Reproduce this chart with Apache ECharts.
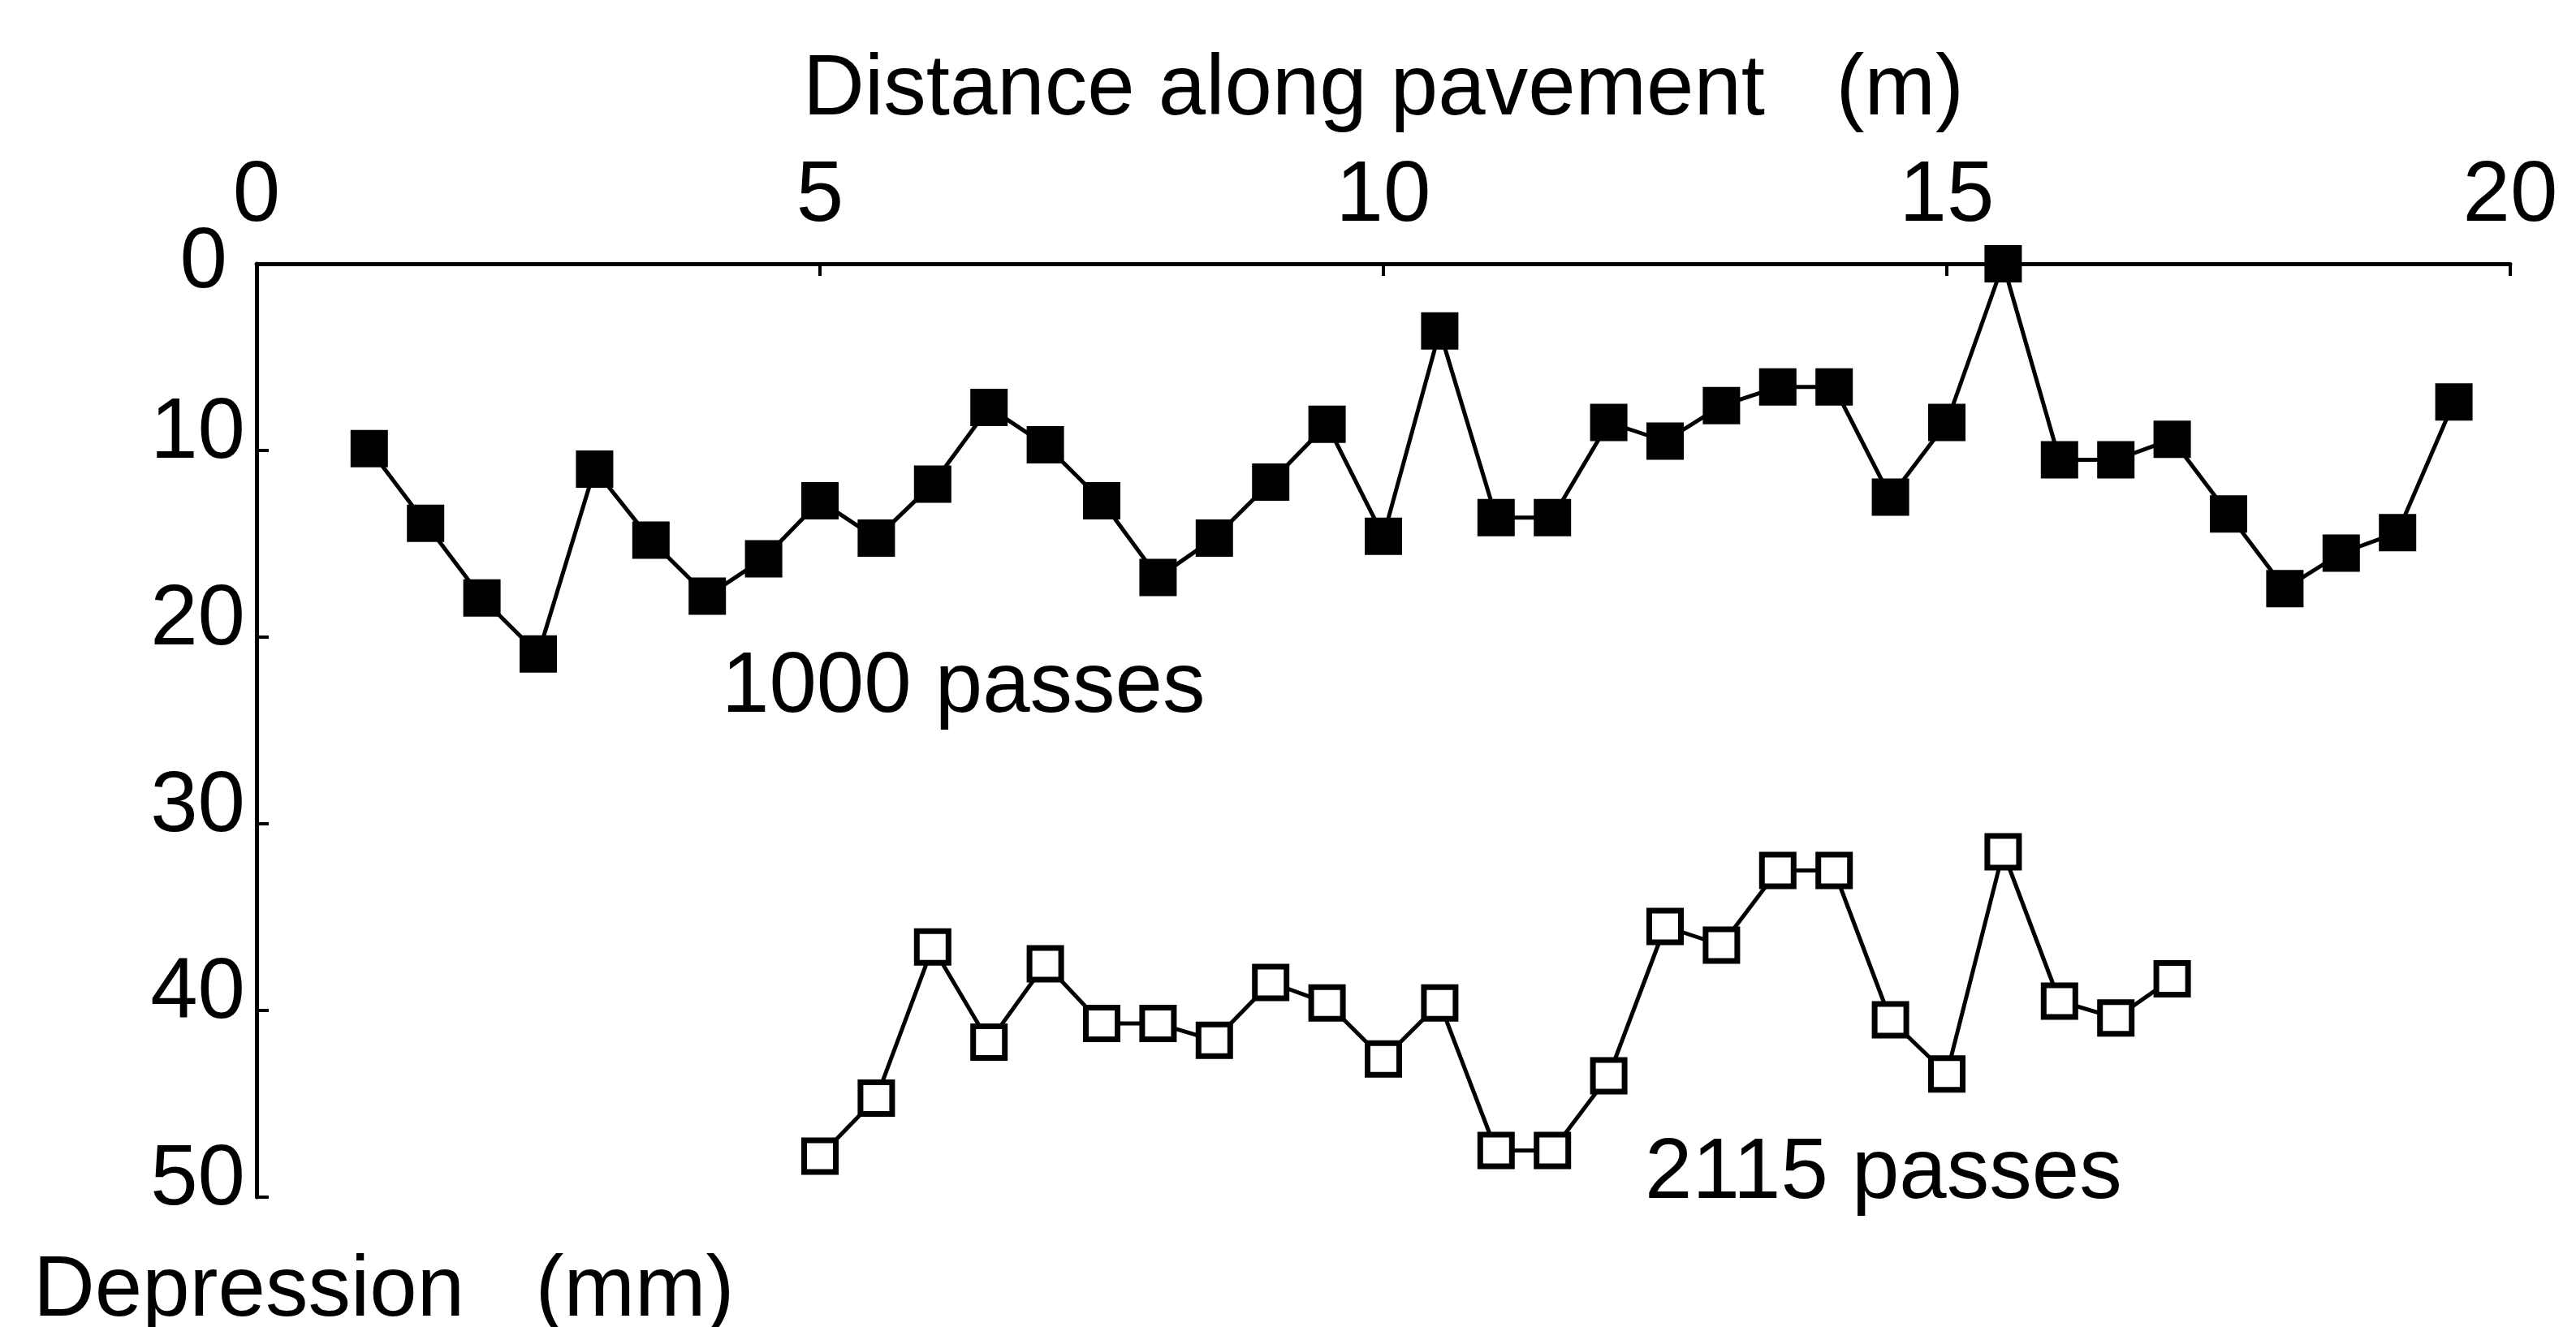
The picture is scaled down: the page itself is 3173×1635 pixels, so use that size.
<!DOCTYPE html>
<html>
<head>
<meta charset="utf-8">
<script src="https://cdn.jsdelivr.net/npm/echarts@6/dist/echarts.min.js"></script>
<style>
html,body{margin:0;padding:0;background:#fff;}
#chart{width:3173px;height:1635px;}
</style>
</head>
<body>
<div id="chart"></div>
<script>
// ---- Data ----
const xTicks = [0, 5, 10, 15, 20];
const yTicks = [0, 10, 20, 30, 40, 50];

const dist1000 = [1.0, 1.5, 2.0, 2.5, 3.0, 3.5, 4.0, 4.5, 5.0, 5.5, 6.0, 6.5, 7.0, 7.5, 8.0, 8.5, 9.0, 9.5, 10.0,
                  10.5, 11.0, 11.5, 12.0, 12.5, 13.0, 13.5, 14.0, 14.5, 15.0, 15.5, 16.0, 16.5, 17.0, 17.5, 18.0, 18.5, 19.0, 19.5];
const depth1000 = [9.9, 13.9, 17.9, 20.9, 11.0, 14.8, 17.8, 15.8, 12.7, 14.7, 11.8, 7.7, 9.7, 12.7, 16.8, 14.7, 11.7, 8.6, 14.6,
                   3.6, 13.6, 13.6, 8.5, 9.5, 7.6, 6.6, 6.6, 12.5, 8.5, 0, 10.5, 10.5, 9.4, 13.4, 17.4, 15.5, 14.4, 7.4];

const dist2115 = [5.0, 5.5, 6.0, 6.5, 7.0, 7.5, 8.0, 8.5, 9.0, 9.5, 10.0, 10.5, 11.0, 11.5, 12.0, 12.5, 13.0,
                  13.5, 14.0, 14.5, 15.0, 15.5, 16.0, 16.5, 17.0];
const depth2115 = [47.8, 44.7, 36.6, 41.7, 37.5, 40.7, 40.7, 41.6, 38.5, 39.6, 42.6, 39.6, 47.5, 47.5, 43.5, 35.5, 36.5,
                   32.5, 32.5, 40.5, 43.4, 31.5, 39.5, 40.4, 38.3];

const label1000 = '1000 passes';
const label2115 = '2115 passes';
const xTitle = 'Distance along pavement   (m)';
const yTitle = 'Depression   (mm)';

// ---- Chart ----
const FONT = "'Liberation Sans', Arial, Helvetica, sans-serif";
const FS = 105;
const chart = echarts.init(document.getElementById('chart'), null, {renderer: 'canvas'});

const option = {
  animation: false,
  backgroundColor: '#ffffff',
  grid: {left: 316, right: 81, top: 325, bottom: 160, containLabel: false},
  xAxis: {
    type: 'value', position: 'top',
    min: xTicks[0], max: xTicks[xTicks.length - 1], interval: xTicks[1] - xTicks[0],
    name: xTitle, nameLocation: 'middle', nameGap: 160,
    nameTextStyle: {fontFamily: FONT, fontSize: FS, color: '#000'},
    axisLine: {show: true, onZero: false, lineStyle: {color: '#000', width: 5}},
    axisTick: {show: true, inside: true, length: 15, lineStyle: {color: '#000', width: 4}},
    axisLabel: {show: true, margin: 29, fontFamily: FONT, fontSize: FS, color: '#000',
      formatter: v => xTicks.indexOf(v) >= 0 ? String(v) : ''},
    splitLine: {show: false}
  },
  yAxis: {
    type: 'value', inverse: true,
    min: yTicks[0], max: yTicks[yTicks.length - 1], interval: yTicks[1] - yTicks[0],
    axisLine: {show: true, onZero: false, lineStyle: {color: '#000', width: 5}},
    axisTick: {show: true, inside: true, length: 15, lineStyle: {color: '#000', width: 4}},
    axisLabel: {show: true, margin: 14,
      formatter: v => (yTicks.indexOf(v) < 0 ? '' : (v === 0 ? '{z|0}' : '{n|' + v + '}')),
      rich: {
        n: {fontFamily: FONT, fontSize: FS, color: '#000', padding: [0, 0, 40, 0]},
        z: {fontFamily: FONT, fontSize: FS, color: '#000', padding: [0, 22, 0, 0]}
      }
    },
    splitLine: {show: false}
  },
  series: [
    {
      name: label1000, type: 'line', silent: true, clip: false, z: 3,
      data: dist1000.map((x, i) => [x, depth1000[i]]),
      symbol: 'rect', symbolSize: 46, showAllSymbol: true,
      lineStyle: {color: '#000', width: 5},
      itemStyle: {color: '#000', borderWidth: 0},
      emphasis: {disabled: true}
    },
    {
      name: label2115, type: 'line', silent: true, clip: false, z: 3,
      data: dist2115.map((x, i) => [x, depth2115[i]]),
      symbol: 'rect', symbolSize: 39, showAllSymbol: true,
      lineStyle: {color: '#000', width: 5},
      itemStyle: {color: '#fff', borderColor: '#000', borderWidth: 7},
      emphasis: {disabled: true}
    }
  ],
  graphic: [
    {type: 'text', left: 889, top: 796, silent: true,
      style: {text: label1000, font: FS + 'px ' + FONT, fill: '#000'}},
    {type: 'text', left: 2026, top: 1395, silent: true,
      style: {text: label2115, font: FS + 'px ' + FONT, fill: '#000'}},
    {type: 'text', left: 41, top: 1540, silent: true,
      style: {text: yTitle, font: FS + 'px ' + FONT, fill: '#000'}}
  ]
};
chart.setOption(option);
</script>
</body>
</html>
